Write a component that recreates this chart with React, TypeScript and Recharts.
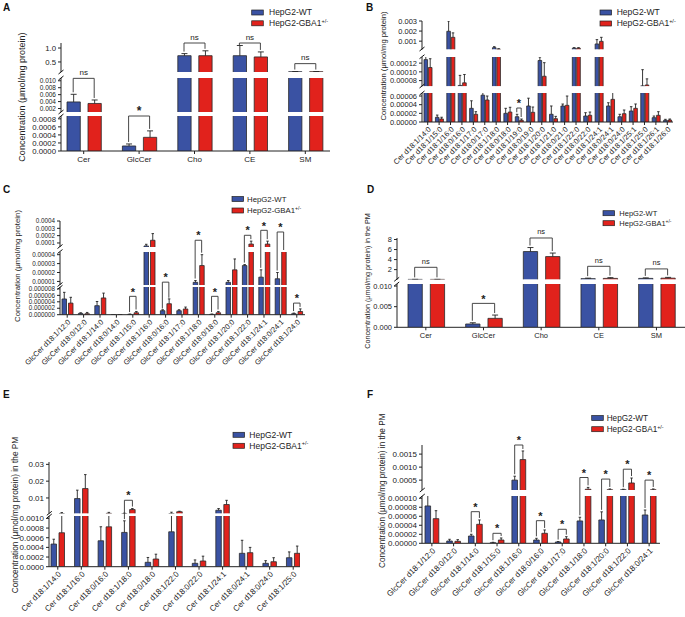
import React from 'react';
import { ComposedChart, Bar, Scatter, XAxis, YAxis } from 'recharts';

const BLUE = '#3a52a3';
const RED = '#e1221c';
const INK = '#222';
const FONT = '"Liberation Sans", Arial, sans-serif';

// ---- A: whole cell lipids
const aCats = ['Cer', 'GlcCer', 'Cho', 'CE', 'SM'];
const aWT = [0.0039, 0.000125, 0.725, 0.725, 0.15];
const aWTErr = [0.0022, 0.00005, 0.075, 0.365, 0.006];
const aGBA = [0.00346, 0.00034, 0.725, 0.68, 0.15];
const aGBAErr = [0.001, 0.00016, 0.175, 0.18, 0.006];
const aBrSeg = [1, 2, 0, 0, 0];
const aBrY = [0.0107, 0.00087, 1.18, 1.18, 0.44];
const aBrLab = ['ns', '*', 'ns', 'ns', 'ns'];

// ---- B: ceramide species
const bCats = [
  'Cer d18:1/14:0', 'Cer d18:1/15:0', 'Cer d18:1/16:0', 'Cer d18:0/16:0', 'Cer d18:1/17:0', 'Cer d18:0/17:0',
  'Cer d18:1/18:0', 'Cer d18:0/18:0', 'Cer d18:1/19:0', 'Cer d18:0/19:0', 'Cer d18:1/20:0', 'Cer d18:1/21:0',
  'Cer d18:0/21:0', 'Cer d18:1/22:0', 'Cer d18:0/22:0', 'Cer d18:1/24:1', 'Cer d18:0/24:1', 'Cer d18:0/24:0',
  'Cer d18:1/25:1', 'Cer d18:1/25:0', 'Cer d18:1/26:1', 'Cer d18:1/26:0',
];
const bWT = [0.000128, 0.0000108, 0.00198, 0.000069, 0.0000316, 0.000062, 0.00035, 0.00002, 0.0000122, 0.000037, 0.000126,
  0.0000178, 0.000037, 0.0003, 0.0000138, 0.00072, 0.000037, 0.0000122, 0.0000254, 0.000068, 0.00001, 0.0000039];
const bWTErr = [0.00002, 0.0000052, 0.00102, 0.000023, 0.0000174, 0.000019, 0.0001, 0.0000116, 0.0000056, 0.000018, 0.000008,
  0.0000192, 0.0000045, 0.00005, 0.0000077, 0.00043, 0.0000075, 0.0000056, 0.00001, 0.000037, 0.0000038, 0.0000023];
const bGBA = [0.00011, 0.000007, 0.00138, 0.000075, 0.0000178, 0.0000508, 0.0002, 0.000023, 0.0000039, 0.0000224, 0.00009,
  0.0000076, 0.0000385, 0.0003, 0.0000155, 0.00098, 0.0000523, 0.0000192, 0.0000316, 0.00007, 0.0000155, 0.0000046];
const bGBAErr = [0.00002, 0.000004, 0.00044, 0.000019, 0.000006, 0.0000092, 0.00005, 0.000011, 0.000003, 0.0000122, 0.000031,
  0.0000054, 0.0000215, 0.00005, 0.0000075, 0.0004, 0.000019, 0.0000085, 0.00001, 0.000014, 0.0000083, 0.0000023];
const bBrSeg = [null, null, null, null, null, null, null, null, 2, null, null, null, null, null, null, null, null, null, null, null, null, null];
const bBrY = [null, null, null, null, null, null, null, null, 0.0000323, null, null, null, null, null, null, null, null, null, null, null, null, null];
const bBrLab = [null, null, null, null, null, null, null, null, '*', null, null, null, null, null, null, null, null, null, null, null, null, null];

// ---- C: glucosylceramide species
const cCats = [
  'GlcCer d18:1/12:0', 'GlcCer d18:0/12:0', 'GlcCer d18:1/14:0', 'GlcCer d18:0/14:0', 'GlcCer d18:1/15:0',
  'GlcCer d18:1/16:0', 'GlcCer d18:0/16:0', 'GlcCer d18:1/17:0', 'GlcCer d18:1/18:0', 'GlcCer d18:0/18:0',
  'GlcCer d18:1/20:0', 'GlcCer d18:1/22:0', 'GlcCer d18:1/24:1', 'GlcCer d18:0/24:1', 'GlcCer d18:1/24:0',
];
const cWT = [0.00000488, 0.0000004, 0.0000028, 0.00000005, 0.0000001, 0.000059, 0.00000124, 0.00000124, 0.000009, 0.0000001,
  0.000009, 0.0000278, 0.0000148, 0.000013, 0.0000003];
const cWTErr = [0.00000206, 0.0000002, 0.0000013, 0, 0.0000001, 0.000023, 0.0000003, 0.0000003, 0.000002, 0.0000001,
  0.000002, 0.0000011, 0.0000082, 0.000007, 0.0000002];
const cGBA = [0.0000036, 0.0000003, 0.0000052, 0.00000005, 0.0000006, 0.000137, 0.0000034, 0.00000177, 0.0000278, 0.0000006,
  0.000023, 0.000085, 0.000085, 0.000044, 0.000001];
const cGBAErr = [0.0000018, 0.0000004, 0.0000015, 0, 0.0000004, 0.000091, 0.0000015, 0.0000006, 0.0000122, 0.0000004,
  0.0000122, 0.00004, 0.00004, 0.000001, 0.0000008];
const cBrSeg = [null, null, null, null, 2, null, 1, null, 0, 2, null, 0, 0, 0, 2];
const cBrY = [null, null, null, null, 0.0000057, null, 0.0000092, null, 0.000137, 0.0000057, null, 0.000205, 0.000273, 0.00025, 0.0000036];
const cBrLab = [null, null, null, null, '*', null, '*', null, '*', '*', null, '*', '*', '*', '*'];

// ---- D: plasma membrane lipids
const dCats = ['Cer', 'GlcCer', 'Cho', 'CE', 'SM'];
const dWT = [0.05, 0.0008, 5.6, 0.2, 0.25];
const dWTErr = [0.01, 0.0003, 0.8, 0.1, 0.1];
const dGBA = [0.05, 0.00217, 4.6, 0.25, 0.3];
const dGBAErr = [0.01, 0.0008, 0.7, 0.15, 0.15];
const dBrSeg = [0, 1, 0, 0, 0];
const dBrY = [2.46, 0.0058, 8.3, 2.66, 2.14];
const dBrLab = ['ns', '*', 'ns', 'ns', 'ns'];

// ---- E: plasma membrane ceramide species
const eCats = [
  'Cer d18:1/14:0', 'Cer d18:1/16:0', 'Cer d18:0/16:0', 'Cer d18:1/18:0', 'Cer d18:0/18:0', 'Cer d18:1/22:0',
  'Cer d18:0/22:0', 'Cer d18:1/24:1', 'Cer d18:0/24:1', 'Cer d18:0/24:0', 'Cer d18:1/25:0',
];
const eWT = [0.000469, 0.00964, 0.000537, 0.00071, 0.000091, 0.000723, 0.00007, 0.0027, 0.000277, 0.00007, 0.000186];
const eWTErr = [0.0001, 0.005, 0.00029, 0.00024, 0.0001, 0.0008, 0.00007, 0.001, 0.00027, 0.000055, 0.00012];
const eGBA = [0.000703, 0.0156, 0.000826, 0.0031, 0.000159, 0.0018, 0.000118, 0.0061, 0.00029, 0.000103, 0.000277];
const eGBAErr = [0.0006, 0.0083, 0.0006, 0.0006, 0.0001, 0.0003, 0.0001, 0.0025, 0.00011, 0.000083, 0.00015];
const eBrSeg = [null, null, null, 0, null, null, null, null, null, null, null];
const eBrY = [null, null, null, 0.00863, null, null, null, null, null, null, null];
const eBrLab = [null, null, null, '*', null, null, null, null, null, null, null];

// ---- F: plasma membrane glucosylceramide species
const fCats = [
  'GlcCer d18:1/12:0', 'GlcCer d18:0/12:0', 'GlcCer d18:1/14:0', 'GlcCer d18:1/15:0', 'GlcCer d18:1/16:0',
  'GlcCer d18:0/16:0', 'GlcCer d18:1/17:0', 'GlcCer d18:1/18:0', 'GlcCer d18:1/20:0', 'GlcCer d18:1/22:0',
  'GlcCer d18:0/24:1',
];
const fWT = [0.0000829, 0.0000051, 0.0000162, 0.0000013, 0.0005, 0.0000073, 0.0000029, 0.0000496, 0.0000518, 0.00013, 0.0000629];
const fWTErr = [0.00005, 0.0000038, 0.0000038, 0.000001, 0.00015, 0.0000038, 0.000001, 0.0000082, 0.000018, 0.00002, 0.000011];
const fGBA = [0.0000547, 0.0000044, 0.0000422, 0.0000073, 0.00129, 0.0000222, 0.0000096, 0.00015, 0.00013, 0.00039, 0.00013];
const fGBAErr = [0.0000177, 0.0000037, 0.0000096, 0.0000045, 0.00033, 0.0000074, 0.0000051, 0.00007, 0.00003, 0.00019, 0.00003];
const fBrSeg = [null, null, 1, 1, 0, 1, 1, 0, 0, 0, 0];
const fBrY = [null, null, 0.0000702, 0.0000222, 0.00185, 0.0000502, 0.0000311, 0.0006, 0.00054, 0.00092, 0.0005];
const fBrLab = [null, null, '*', '*', '*', '*', '*', '*', '*', '*', '*'];

type Seg = { d: [number, number]; ticks: number[]; top: number; bot: number; dec: number; fs?: number };

type Cfg = {
  cats: string[]; wt: number[]; wtErr: number[]; gba: number[]; gbaErr: number[];
  brSeg: (number | null)[]; brY: (number | null)[]; brLab: (string | null)[];
  segs: Seg[]; axisX: number; plotW: number; padL: number; padR: number;
  barSize: number; barGap: number; rotate: boolean; fs: number; yFs: number; starFs: number;
  letter: [string, number, number];
  legend: { x: number; y1: number; y2: number; tx: number; fs: number };
  ylab: { text: string; cx: number; cy: number; fs: number };
};

const LAB = 'Concentration (μmol/mg protein)';
const LAB_PM = 'Concentration (μmol/mg protein) in the PM';

const PANELS: Cfg[] = [
  {
    cats: aCats, wt: aWT, wtErr: aWTErr, gba: aGBA, gbaErr: aGBAErr, brSeg: aBrSeg, brY: aBrY, brLab: aBrLab,
    segs: [
      { d: [0.14, 1.18], ticks: [0.5, 1.0], top: 43, bot: 72, dec: 1 },
      { d: [0.001, 0.0108], ticks: [0.002, 0.004, 0.006, 0.008, 0.01], top: 78, bot: 112, dec: 3, fs: 6.5 },
      { d: [0, 0.00087], ticks: [0, 0.0002, 0.0004, 0.0006, 0.0008], top: 116, bot: 151, dec: 4 },
    ],
    axisX: 61, plotW: 269, padL: -5, padR: -3, barSize: 13.3, barGap: 7.7, rotate: false, fs: 8, yFs: 7.8, starFs: 12,
    letter: ['A', 3, 10.5],
    legend: { x: 251.7, y1: 10, y2: 20.8, tx: 269, fs: 8.5 },
    ylab: { text: LAB, cx: 21.7, cy: 97, fs: 9 },
  },
  {
    cats: bCats, wt: bWT, wtErr: bWTErr, gba: bGBA, gbaErr: bGBAErr, brSeg: bBrSeg, brY: bBrY, brLab: bBrLab,
    segs: [
      { d: [0.00017, 0.003], ticks: [0.001, 0.002, 0.003], top: 20.5, bot: 49, dec: 3 },
      { d: [0.000067, 0.000134], ticks: [0.00008, 0.0001, 0.00012], top: 56.7, bot: 86, dec: 5 },
      { d: [0, 0.000067], ticks: [0, 0.00002, 0.00004, 0.00006], top: 93, bot: 122, dec: 5 },
    ],
    axisX: 422, plotW: 251, padL: 0, padR: 0, barSize: 3.6, barGap: 0.8, rotate: true, fs: 7.5, yFs: 7.5, starFs: 11,
    letter: ['B', 366, 10.5],
    legend: { x: 600, y1: 10, y2: 21, tx: 616.7, fs: 8.5 },
    ylab: { text: LAB, cx: 383, cy: 66, fs: 7.6 },
  },
  {
    cats: cCats, wt: cWT, wtErr: cWTErr, gba: cGBA, gbaErr: cGBAErr, brSeg: cBrSeg, brY: cBrY, brLab: cBrLab,
    segs: [
      { d: [0.000045, 0.0004], ticks: [0.0001, 0.0002, 0.0003, 0.0004], top: 220.5, bot: 246.5, dec: 4 },
      { d: [0.000006, 0.000043], ticks: [0.00001, 0.00002, 0.00003, 0.00004], top: 251.5, bot: 284.5, dec: 5 },
      { d: [0, 0.0000086], ticks: [0, 0.000002, 0.000004, 0.000006, 0.000008], top: 287.3, bot: 315, dec: 6 },
    ],
    axisX: 60, plotW: 245, padL: -1, padR: 0, barSize: 4.5, barGap: 2, rotate: true, fs: 7.5, yFs: 6.3, starFs: 11,
    letter: ['C', 3, 193],
    legend: { x: 232, y1: 196.5, y2: 208, tx: 247, fs: 7.8 },
    ylab: { text: LAB, cx: 17, cy: 266, fs: 7.8 },
  },
  {
    cats: dCats, wt: dWT, wtErr: dWTErr, gba: dGBA, gbaErr: dGBAErr, brSeg: dBrSeg, brY: dBrY, brLab: dBrLab,
    segs: [
      { d: [0.01, 8.3], ticks: [2, 4, 6, 8], top: 237.7, bot: 279.3, dec: 0 },
      { d: [0, 0.0105], ticks: [0, 0.005, 0.01], top: 284, bot: 327.3, dec: 3 },
    ],
    axisX: 396.7, plotW: 288.3, padL: 0, padR: 0, barSize: 14.3, barGap: 8, rotate: false, fs: 7.5, yFs: 7.5, starFs: 11,
    letter: ['D', 367, 193],
    legend: { x: 603, y1: 210.7, y2: 220.7, tx: 619.3, fs: 7.5 },
    ylab: { text: LAB_PM, cx: 367, cy: 281, fs: 7.2 },
  },
  {
    cats: eCats, wt: eWT, wtErr: eWTErr, gba: eGBA, gbaErr: eGBAErr, brSeg: eBrSeg, brY: eBrY, brLab: eBrLab,
    segs: [
      { d: [0.0007, 0.0314], ticks: [0.01, 0.02, 0.03], top: 461.7, bot: 513.3, dec: 2 },
      { d: [0, 0.00105], ticks: [0, 0.0002, 0.0004, 0.0006, 0.0008, 0.001], top: 516, bot: 566.7, dec: 4 },
    ],
    axisX: 49.3, plotW: 251, padL: -3, padR: -5, barSize: 5.5, barGap: 2.5, rotate: true, fs: 8, yFs: 8, starFs: 11,
    letter: ['E', 3, 398],
    legend: { x: 233, y1: 432.3, y2: 443.3, tx: 249.3, fs: 8.5 },
    ylab: { text: LAB_PM, cx: 15.3, cy: 515, fs: 8.3 },
  },
  {
    cats: fCats, wt: fWT, wtErr: fWTErr, gba: fGBA, gbaErr: fGBAErr, brSeg: fBrSeg, brY: fBrY, brLab: fBrLab,
    segs: [
      { d: [0.00012, 0.00185], ticks: [0.0005, 0.001, 0.0015], top: 445, bot: 490, dec: 4 },
      { d: [0, 0.000105], ticks: [0, 0.00002, 0.00004, 0.00006, 0.00008, 0.0001], top: 496, bot: 543.3, dec: 5 },
    ],
    axisX: 422.3, plotW: 238, padL: -1, padR: 0, barSize: 5.6, barGap: 2.6, rotate: true, fs: 8, yFs: 8, starFs: 11,
    letter: ['F', 367, 398],
    legend: { x: 591.7, y1: 415.5, y2: 426.7, tx: 606.7, fs: 8.2 },
    ylab: { text: LAB_PM, cx: 382.3, cy: 490.8, fs: 8.2 },
  },
];

const segPx = (s: Seg, v: number) => {
  const t = Math.min(Math.max((v - s.d[0]) / (s.d[1] - s.d[0]), 0), 1);
  return s.bot - t * (s.bot - s.top);
};

// where a value sits on the broken axis (searching from the bottom segment up)
const toPx = (segs: Seg[], v: number) => {
  for (let k = segs.length - 1; k >= 0; k--) {
    const s = segs[k];
    if (v <= s.d[1] || k === 0) return segPx(s, v);
    if (v < segs[k - 1].d[0]) return s.top;
  }
  return segs[0].top;
};

const barShape = (key: string, errKey: string, d0: number, fill: string) => (props: any) => {
  const { x, y, width, height, payload } = props;
  const v = payload[key];
  if (!(v > d0) || !(height > 0)) return <g />;
  const e = (payload[errKey] * height) / (v - d0);
  const cx = x + width / 2;
  const cap = Math.max(2.5, Math.min(width * 0.45, 6));
  return (
    <g>
      <rect x={x} y={y} width={width} height={height} fill={fill} />
      <path d={`M${x},${y + height}V${y}H${x + width}V${y + height}`} fill="none" stroke="#2a2a2a" strokeWidth={0.8} />
      {e > 0 && (
        <path d={`M${cx},${y}V${y - e}M${cx - cap / 2},${y - e}H${cx + cap / 2}`} fill="none" stroke={INK} strokeWidth={0.9} />
      )}
    </g>
  );
};

const bracketShape = (off: number, fs: number, starFs: number) => (props: any) => {
  const { cx, cy, payload } = props;
  if (payload == null || payload.br == null || cx == null || cy == null || isNaN(cy)) return <g />;
  const star = payload.lab === '*';
  return (
    <g>
      <path d={`M${cx - off},${cy + payload.legL}V${cy}H${cx + off}V${cy + payload.legR}`} fill="none" stroke="#333" strokeWidth={0.9} />
      <text x={cx} y={star ? cy - 0.8 : cy - 3.5} textAnchor="middle" fontSize={star ? starFs : fs} fontWeight={star ? 'bold' : 'normal'} fill={INK}>
        {payload.lab}
      </text>
    </g>
  );
};

const RotTick = (props: any) => {
  const { x, y, payload, fs } = props;
  return (
    <g transform={`translate(${x + 2},${y + 1})`}>
      <text transform="rotate(-45)" textAnchor="end" fontSize={fs} fill={INK} dy="0.35em">
        {payload.value}
      </text>
    </g>
  );
};

const YW = 48;
const MT = 45;
const MB = 45;

const Panel = ({ cfg }: { cfg: Cfg }) => {
  const XH = cfg.rotate ? 90 : 20;
  const off = (cfg.barSize + cfg.barGap) / 2;
  return (
    <>
      {cfg.segs.map((s, k) => {
        const last = k === cfg.segs.length - 1;
        const h = s.bot - s.top;
        const rows = cfg.cats.map((name, i) => {
          const by = cfg.brSeg[i] === k ? cfg.brY[i] : null;
          const bp = by == null ? 0 : segPx(s, by);
          return {
            name,
            wt: cfg.wt[i],
            gba: cfg.gba[i],
            wtErr: cfg.wtErr[i],
            gbaErr: cfg.gbaErr[i],
            br: by,
            lab: cfg.brLab[i],
            legL: by == null ? 0 : Math.max(2, toPx(cfg.segs, cfg.wt[i] + cfg.wtErr[i]) - 2 - bp),
            legR: by == null ? 0 : Math.max(2, toPx(cfg.segs, cfg.gba[i] + cfg.gbaErr[i]) - 2 - bp),
          };
        });
        return (
          <div key={k} style={{ position: 'absolute', left: cfg.axisX - YW, top: s.top - MT }}>
            <ComposedChart
              width={YW + cfg.plotW}
              height={MT + h + (last ? XH : MB)}
              data={rows}
              margin={{ top: MT, right: 0, bottom: last ? 0 : MB, left: 0 }}
              barGap={cfg.barGap}
            >
              <XAxis
                dataKey="name"
                hide={!last}
                interval={0}
                height={XH}
                tickSize={3}
                tickMargin={2}
                padding={{ left: cfg.padL, right: cfg.padR }}
                axisLine={{ stroke: INK }}
                tickLine={{ stroke: INK }}
                tick={cfg.rotate ? <RotTick fs={cfg.fs} /> : { fontSize: cfg.fs, fill: INK }}
              />
              <YAxis
                yAxisId="v"
                type="number"
                domain={s.d}
                allowDataOverflow
                ticks={s.ticks}
                interval={0}
                width={YW}
                tickSize={3}
                tickMargin={2}
                axisLine={{ stroke: INK }}
                tickLine={{ stroke: INK }}
                tick={{ fontSize: s.fs ?? cfg.yFs, fill: INK }}
                tickFormatter={(v: number) => v.toFixed(s.dec)}
              />
              <YAxis yAxisId="br" orientation="right" width={0} type="number" hide domain={s.d} />
              <Bar yAxisId="v" dataKey="wt" barSize={cfg.barSize} fill={BLUE} isAnimationActive={false} shape={barShape('wt', 'wtErr', s.d[0], BLUE)} />
              <Bar yAxisId="v" dataKey="gba" barSize={cfg.barSize} fill={RED} isAnimationActive={false} shape={barShape('gba', 'gbaErr', s.d[0], RED)} />
              <Scatter yAxisId="br" dataKey="br" isAnimationActive={false} shape={bracketShape(off, cfg.fs, cfg.starFs)} />
            </ComposedChart>
          </div>
        );
      })}
    </>
  );
};

export default function App() {
  return (
    <div style={{ position: 'absolute', left: 0, top: 0, width: 685, height: 617, background: '#fff', overflow: 'hidden', fontFamily: FONT }}>
      {PANELS.map((p, i) => (
        <Panel key={i} cfg={p} />
      ))}
      <svg width={685} height={617} style={{ position: 'absolute', left: 0, top: 0, pointerEvents: 'none' }} fontFamily={FONT}>
        {PANELS.map((p, i) => (
          <g key={i}>
            <text x={p.letter[1]} y={p.letter[2]} fontSize={10} fontWeight="bold" fill="#111">
              {p.letter[0]}
            </text>
            <rect x={p.legend.x} y={p.legend.y1} width={11.6} height={5} fill={BLUE} stroke="#222" strokeWidth={0.7} />
            <rect x={p.legend.x} y={p.legend.y2} width={11.6} height={5} fill={RED} stroke="#222" strokeWidth={0.7} />
            <text x={p.legend.tx} y={p.legend.y1 + 2.5 + p.legend.fs * 0.35} fontSize={p.legend.fs} fill={INK}>
              HepG2-WT
            </text>
            <text x={p.legend.tx} y={p.legend.y2 + 2.5 + p.legend.fs * 0.35} fontSize={p.legend.fs} fill={INK}>
              HepG2-GBA1
              <tspan dy={-p.legend.fs * 0.4} fontSize={p.legend.fs * 0.65}>
                +/-
              </tspan>
            </text>
            <text
              transform={`translate(${p.ylab.cx + p.ylab.fs * 0.35},${p.ylab.cy}) rotate(-90)`}
              textAnchor="middle"
              fontSize={p.ylab.fs}
              fill={INK}
            >
              {p.ylab.text}
            </text>
            {p.segs.slice(0, -1).map((s, k) => {
              const nx = p.segs[k + 1];
              const ax = p.axisX;
              return (
                <path
                  key={k}
                  d={`M${ax - 2.5},${s.bot + 2}L${ax + 2.5},${s.bot - 2}M${ax - 2.5},${nx.top + 2}L${ax + 2.5},${nx.top - 2}`}
                  stroke="#111"
                  strokeWidth={1}
                  fill="none"
                />
              );
            })}
          </g>
        ))}
      </svg>
    </div>
  );
}
